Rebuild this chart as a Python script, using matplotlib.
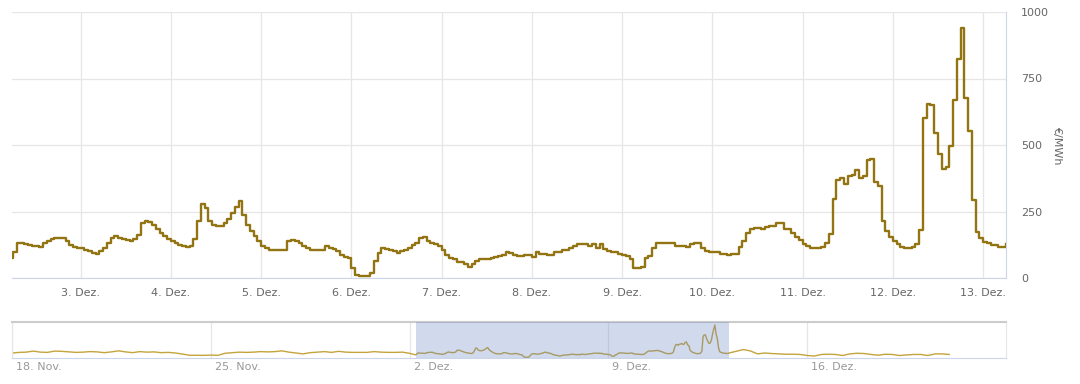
import matplotlib
matplotlib.use('Agg')
import matplotlib.pyplot as plt
import matplotlib.transforms as mtransforms
import pandas as pd

# ---------------- data: hourly day-ahead price, EUR/MWh ----------------
dez02 = [77, 97, 130, 130, 128, 125, 122, 120, 118, 132, 140, 147, 150, 150, 152, 140, 125, 117, 112]  # from 05:00
dez03 = [112, 105, 100, 95, 92, 100, 112, 130, 150, 158, 150, 145, 142, 140, 148, 160, 205, 213, 210, 198, 185, 170, 158, 145]
dez04 = [138, 130, 125, 120, 115, 122, 147, 214, 278, 262, 215, 201, 195, 197, 207, 222, 245, 268, 289, 235, 201, 176, 157, 138]
dez05 = [120, 113, 107, 107, 107, 107, 107, 138, 143, 138, 130, 120, 113, 105, 105, 105, 105, 120, 113, 108, 101, 88, 79, 75]
dez06 = [38, 10, 8, 8, 8, 17, 63, 95, 111, 110, 107, 101, 95, 100, 104, 113, 125, 132, 151, 155, 140, 132, 126, 120]
dez07 = [107, 88, 76, 70, 62, 59, 51, 42, 51, 63, 70, 70, 72, 74, 79, 82, 85, 98, 95, 88, 84, 82, 88, 85]
dez08 = [79, 97, 92, 92, 87, 87, 97, 97, 107, 107, 113, 120, 126, 126, 126, 120, 128, 113, 126, 110, 101, 97, 97, 92]
dez09 = [88, 82, 70, 38, 38, 42, 76, 82, 113, 130, 132, 132, 130, 130, 122, 122, 120, 117, 126, 130, 130, 113, 101, 97]
dez10 = [97, 97, 91, 91, 85, 91, 91, 117, 138, 170, 185, 189, 189, 183, 193, 197, 197, 205, 205, 185, 183, 170, 155, 142]
dez11 = [126, 120, 112, 112, 112, 117, 130, 164, 298, 370, 377, 352, 383, 389, 405, 377, 385, 442, 446, 362, 345, 214, 176, 155]
dez12 = [138, 126, 117, 111, 111, 117, 129, 180, 602, 655, 649, 546, 468, 408, 418, 496, 671, 822, 938, 675, 552, 295, 172, 151]
dez13 = [136, 130, 123, 123, 117, 117, 129]

prices = dez02 + dez03 + dez04 + dez05 + dez06 + dez07 + dez08 + dez09 + dez10 + dez11 + dez12 + dez13
times = pd.date_range('2022-12-02 05:00', periods=len(prices), freq='h')

# navigator: coarse 6-hourly readings outside the zoomed window
nav_before = [130, 148, 155, 185, 155, 148, 185, 178, 162, 148, 155, 170, 162, 140, 162, 192,
              162, 140, 170, 155, 162, 140, 148, 130, 100, 65, 62, 62, 70, 62, 122, 140,
              155, 148, 155, 170, 162, 170, 192, 155, 130, 105, 140, 155, 170, 148, 178, 155,
              148, 148, 148, 170, 155, 148, 148, 155, 120]
nav_after = [130, 180, 230, 190, 105, 130, 115, 105, 95, 95, 88, 58, 42, 88, 95, 88,
             58, 105, 122, 115, 88, 66, 95, 88, 58, 75, 88, 88, 58, 105, 105, 88]
before_times = pd.date_range('2022-11-18 00:00', periods=len(nav_before), freq='6h')
after_times = pd.date_range('2022-12-13 06:00', periods=len(nav_after), freq='6h')

main_ticks = pd.date_range('2022-12-03', '2022-12-13', freq='D')
main_labels = ['3. Dez.', '4. Dez.', '5. Dez.', '6. Dez.', '7. Dez.', '8. Dez.',
               '9. Dez.', '10. Dez.', '11. Dez.', '12. Dez.', '13. Dez.']
nav_ticks = pd.date_range('2022-11-18', periods=5, freq='7D')
nav_labels = ['18. Nov.', '25. Nov.', '2. Dez.', '9. Dez.', '16. Dez.']
y_ticks = [0, 250, 500, 750, 1000]

view_start = pd.Timestamp('2022-12-02 05:45')
view_end = pd.Timestamp('2022-12-13 06:05')

line_col = '#927512'
grid_col = '#e6e6e6'
axis_col = '#ccd6eb'

fig = plt.figure(figsize=(10.8, 3.84), dpi=100)

# ---------------- main chart ----------------
ax = fig.add_axes([12/1080, 106/384, 994/1080, 266/384])
ax.step(times, prices, where='post', color=line_col, lw=1.7, zorder=3)
ax.set_xlim(view_start, view_end)
ax.set_ylim(0, 1000)
ax.set_axisbelow(True)
ax.grid(color=grid_col, lw=0.9)

ax.set_xticks(main_ticks, labels=main_labels)
ax.tick_params(axis='x', length=0, pad=7, labelcolor='#666666', labelsize=8)
ax.yaxis.tick_right()
ax.set_yticks(y_ticks)
ax.tick_params(axis='y', length=0, pad=11, labelcolor='#666666', labelsize=8)
ax.yaxis.set_label_position('right')
ax.set_ylabel('€/MWh', rotation=270, color='#666666', fontsize=8)
ax.yaxis.set_label_coords(1.056, 0.5)

for s in ['top', 'left']:
    ax.spines[s].set_visible(False)
ax.spines['bottom'].set_color(axis_col)
ax.spines['right'].set_color(axis_col)

# ---------------- navigator ----------------
nav = fig.add_axes([12/1080, 26/384, 994/1080, 36/384])
nav_times = list(before_times) + list(times) + list(after_times)
nav_vals = nav_before + prices + nav_after
nav.plot(nav_times, nav_vals, color='#c4a43c', lw=1.0, zorder=2)
nav.set_xlim(pd.Timestamp('2022-11-18'), pd.Timestamp('2022-12-23'))
nav.set_ylim(-14, 1024)
nav.axvspan(view_start, view_end, color=(0.4, 0.52, 0.76, 0.3), lw=0, zorder=3)
nav.set_yticks([])
nav.set_xticks(nav_ticks, labels=nav_labels)
nav.grid(axis='x', color=grid_col, lw=0.9)
nav.tick_params(axis='x', length=0, pad=3, labelcolor='#999999', labelsize=8)
shift = mtransforms.ScaledTranslation(4/100, 0, fig.dpi_scale_trans)
for lab in nav.get_xticklabels():
    lab.set_ha('left')
    lab.set_transform(lab.get_transform() + shift)

nav.spines['top'].set_color('#cccccc')
nav.spines['top'].set_linewidth(1.5)
nav.spines['left'].set_color(grid_col)
nav.spines['right'].set_color(grid_col)
nav.spines['bottom'].set_color(axis_col)

plt.savefig('out.png', dpi=100)
